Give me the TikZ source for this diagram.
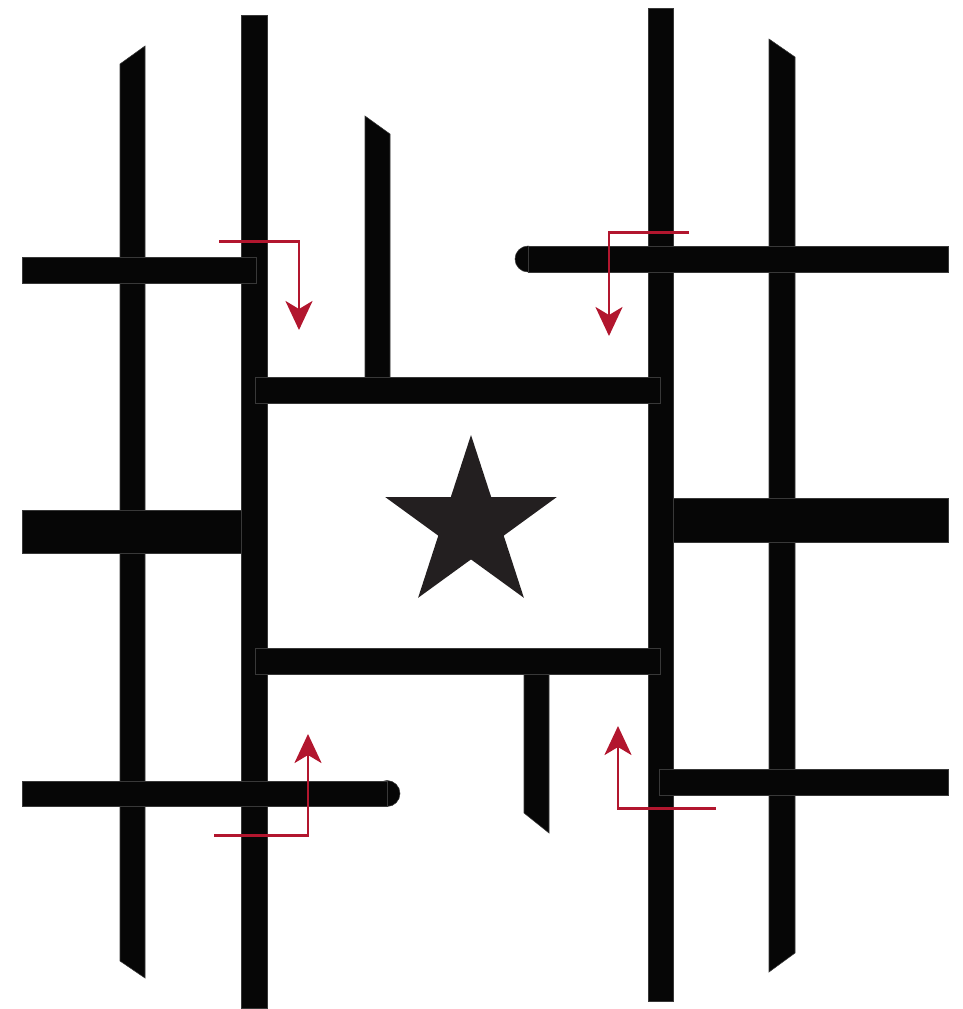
\documentclass[tikz,border=0pt]{standalone}
\usetikzlibrary{arrows.meta}

\definecolor{roadblack}{HTML}{060606}
\definecolor{routered}{HTML}{B2162E}
\definecolor{stardark}{HTML}{231F20}

\begin{document}
\begin{tikzpicture}[x=0.02cm, y=-0.02cm,
    road/.style={fill=roadblack, draw=black!78, line width=0.3pt},
    route/.style={draw=routered, line width=1.7pt,
        -{Stealth[length=0.58cm, width=0.54cm, inset=0.16cm]}}]

    % Rozměry
    \def\W{963}
    \def\H{1009}

    \useasboundingbox (0,0) rectangle (\W,\H);

    % 1. Svislé ulice (rovné)
    \foreach \xa/\xb/\ya/\yb in {241/267/15/1008, 648/673/8/1001} {
        \path[road] (\xa,\ya) rectangle (\xb,\yb);
    }

    % 2. Svislé ulice se šikmým koncem
    \path[road] (120,64) -- (145,46) -- (145,978) -- (120,961) -- cycle;
    \path[road] (769,39) -- (795,57) -- (795,953) -- (769,972) -- cycle;
    \path[road] (365,116) -- (390,134) -- (390,389) -- (365,389) -- cycle;
    \path[road] (524,662) -- (549,662) -- (549,833) -- (524,813) -- cycle;

    % 3. Vodorovné ulice
    \foreach \xa/\xb/\ya/\yb in {22/256/257/283, 255/660/377/403, 255/660/648/674,
                                 22/241/510/553, 673/948/498/542, 659/948/769/795} {
        \path[road] (\xa,\ya) rectangle (\xb,\yb);
    }

    % slepé ulice s kulatým koncem
    \path[road] (528,259) circle[radius=13];
    \path[road] (528,246) rectangle (948,272);
    \path[road] (387,793.5) circle[radius=13];
    \path[road] (22,781) rectangle (387,806);

    % 4. Hvězda uprostřed bloku
    \begin{scope}[shift={(471,525)}]
        \path[fill=stardark] (-90:90)
            \foreach \a/\r in {-54/34.4, -18/90, 18/34.4, 54/90, 90/34.4,
                               126/90, 162/34.4, 198/90, 234/34.4} {-- (\a:\r)} -- cycle;
    \end{scope}

    % 5. Směry objezdu
    \draw[route] (219,241) -- (299,241) -- (299,330);
    \draw[route] (689,232) -- (609,232) -- (609,336);
    \draw[route] (214,835) -- (308,835) -- (308,734);
    \draw[route] (716,808) -- (618,808) -- (618,726);

\end{tikzpicture}
\end{document}
